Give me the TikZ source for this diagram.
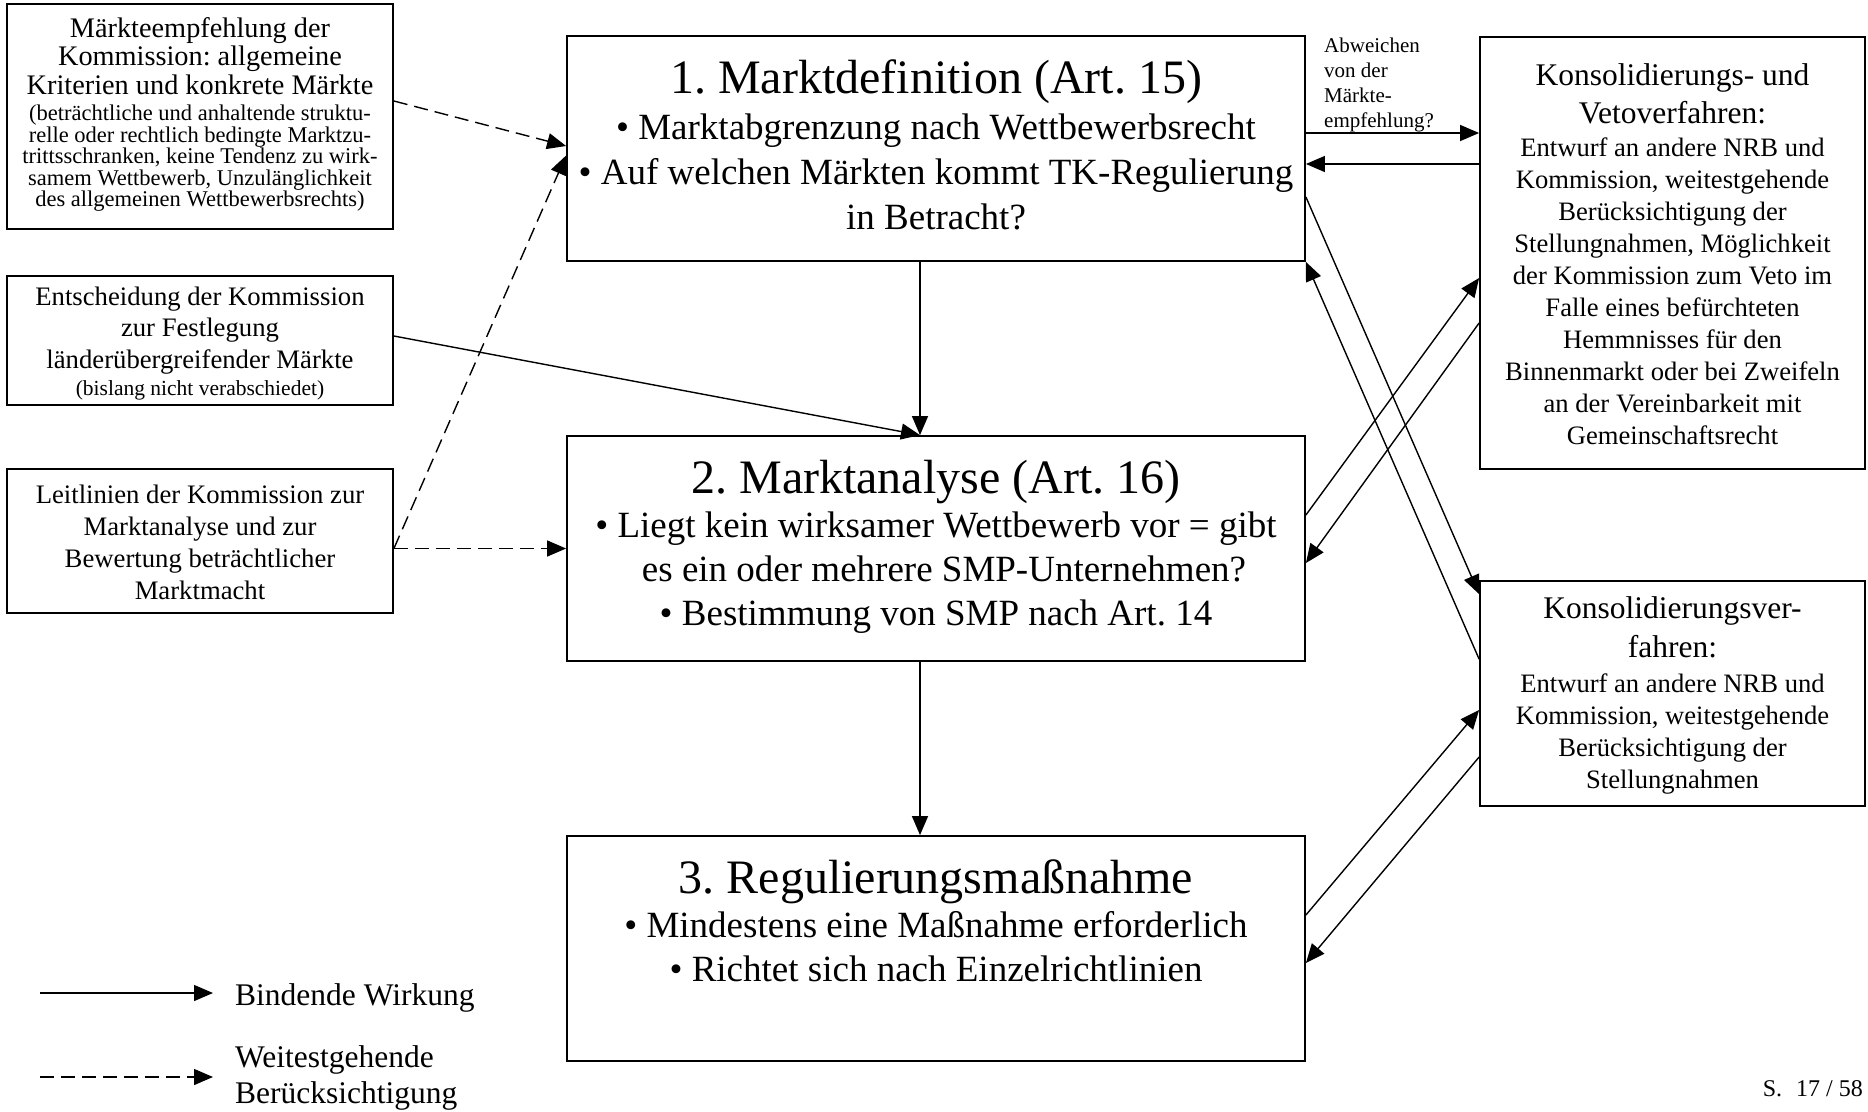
\documentclass[tikz,border=0pt]{standalone}
\usepackage{fontspec}
\setmainfont{Liberation Serif}
\usetikzlibrary{arrows.meta}
\newcommand{\fsz}[2]{\fontsize{#1pt}{#2pt}\selectfont}
% centred / left paragraphs with the font's own interword spaces
\newcommand{\ctr}{\centering\spaceskip=0pt\relax\xspaceskip=0pt\relax}
\newcommand{\lft}{\raggedright\spaceskip=0pt\relax\xspaceskip=0pt\relax}
\begin{document}
\frenchspacing
\lineskiplimit=-100pt
\begin{tikzpicture}[x=1pt, y=-1pt,
  box/.style={draw, line width=1.8pt, inner sep=0pt},
  txt/.style={anchor=base, inner sep=0pt},
  conn/.style={line width=1.4pt, -{Triangle[length=19pt,width=16pt]}},
  soft/.style={conn, dash pattern=on 14pt off 7pt},
]
\useasboundingbox[fill=white] (0,0) rectangle (1868,1111);

% ---------- frames ----------
\node[box, minimum width=386pt, minimum height=225pt] (rec)  at (200,116.5)  {};
\node[box, minimum width=386pt, minimum height=129pt] (dec)  at (200,340.5)  {};
\node[box, minimum width=386pt, minimum height=144pt] (gl)   at (200,541)    {};
\node[box, minimum width=738pt, minimum height=225pt] (def)  at (936,148.5)  {};
\node[box, minimum width=738pt, minimum height=225pt] (ana)  at (936,548.5)  {};
\node[box, minimum width=738pt, minimum height=225pt] (reg)  at (936,948.5)  {};
\node[box, minimum width=385pt, minimum height=432pt] (veto) at (1672.5,253) {};
\node[box, minimum width=385pt, minimum height=225pt] (cons) at (1672.5,693.5) {};

% ---------- texts ----------
\node[txt, text width=380pt] (recT) at (200,37) {\ctr
  {\fsz{28.3}{28.7}Märkteempfehlung der\\ Kommission: allgemeine\\ Kriterien und konkrete Märkte\par}
  \vspace{5pt}
  {\fsz{22.5}{21.5}(beträchtliche und anhaltende struktu-\\ relle oder rechtlich bedingte Marktzu-\\ trittsschranken, keine Tendenz zu wirk-\\ samem Wettbewerb, Unzulänglichkeit\\ des allgemeinen Wettbewerbsrechts)\par}};

\node[txt, text width=380pt] (decT) at (200,305) {\ctr
  {\fsz{26.7}{31.5}Entscheidung der Kommission\\ zur Festlegung\\ länderübergreifender Märkte\par}
  {\fsz{21.5}{27}(bislang nicht verabschiedet)\par}};

\node[txt, text width=380pt] (glT) at (200,503) {\ctr
  {\fsz{26.7}{32}Leitlinien der Kommission zur\\ Marktanalyse und zur\\ Bewertung beträchtlicher\\ Marktmacht\par}};

\node[txt, text width=734pt] (defT) at (936,93) {\ctr
  {\fsz{48}{48}1. Marktdefinition (Art.~15)\par}
  \vspace{1pt}
  {\fsz{37}{45}• Marktabgrenzung nach Wettbewerbsrecht\\ • Auf welchen Märkten kommt TK-Regulierung\\ in Betracht?\par}};

\node[txt, text width=734pt] (anaT) at (936,493) {\ctr
  {\fsz{48}{48}2. Marktanalyse (Art.~16)\par}
  {\fsz{37}{44}• Liegt kein wirksamer Wettbewerb vor = gibt\\ \hspace*{16pt}es ein oder mehrere SMP-Unternehmen?\\ • Bestimmung von SMP nach Art.~14\par}};

\node[txt, text width=734pt] (regT) at (936,893) {\ctr
  {\fsz{48}{48}3. Regulierungsmaßnahme\par}
  {\fsz{37}{44}• Mindestens eine Maßnahme erforderlich\\ • Richtet sich nach Einzelrichtlinien\par}};

\node[txt, text width=380pt] (vetoT) at (1672.5,85) {\ctr
  {\fsz{31.5}{38}Konsolidierungs- und\\ Vetoverfahren:\par}
  \vspace{1pt}
  {\fsz{26.6}{32}Entwurf an andere NRB und\\ Kommission, weitestgehende\\ Berücksichtigung der\\ Stellungnahmen, Möglichkeit\\ der Kommission zum Veto im\\ Falle eines befürchteten\\ Hemmnisses für den\\ Binnenmarkt oder bei Zweifeln\\ an der Vereinbarkeit mit\\ Gemeinschaftsrecht\par}};

\node[txt, text width=380pt] (consT) at (1672.5,618) {\ctr
  {\fsz{31.5}{39}Konsolidierungsver-\\ fahren:\par}
  \vspace{3pt}
  {\fsz{26.6}{32}Entwurf an andere NRB und\\ Kommission, weitestgehende\\ Berücksichtigung der\\ Stellungnahmen\par}};

% ---------- connectors on the left ----------
\draw[soft] ([yshift=15.5pt]rec.east) -- ([yshift=2.5pt]def.west);
\coordinate (glOut) at (gl.east |- ana.west);
\draw[soft] (glOut) -- ([yshift=-7pt]def.west);
\draw[soft] (glOut) -- (ana.west);
\draw[conn] ([yshift=4.5pt]dec.east) -- ([xshift=-16pt]ana.north);

% ---------- main sequence ----------
\draw[conn] ([xshift=-16pt]def.south) -- ([xshift=-16pt]ana.north);
\draw[conn] ([xshift=-16pt]ana.south) -- ([xshift=-16pt]reg.north);

% ---------- exchanges with the procedures on the right ----------
\coordinate (d1) at ([yshift=15.5pt]def.east);
\coordinate (d2) at ([yshift=-15.5pt]def.east);
\draw[conn] (d1) -- (d1 -| veto.west);
\draw[conn] (d2 -| veto.west) -- (d2);
\node[anchor=base west, text width=150pt, inner sep=0pt, font=\fsz{21}{25}] (devT) at (1324,52)
  {\lft Abweichen\\ von der\\ Märkte-\\ empfehlung?\par};

\draw[conn] ([yshift=-48.5pt]def.east) -- ([yshift=-14pt]cons.north west);
\draw[conn] ([yshift=-79pt]cons.north west) -- (def.south east);
\draw[conn] ([yshift=33.5pt]ana.east) -- ([yshift=-25pt]veto.west);
\draw[conn] ([yshift=-70pt]veto.west) -- ([yshift=-14.5pt]ana.east);
\draw[conn] ([yshift=33.5pt]reg.east) -- ([yshift=-16.5pt]cons.west);
\draw[conn] ([yshift=-63.5pt]cons.west) -- ([yshift=-14.5pt]reg.east);

% ---------- legend ----------
\coordinate (lgA1) at (40,993);
\coordinate (lgA2) at (213,993);
\coordinate (lgB1) at (40,1077);
\coordinate (lgB2) at (213,1077);
\draw[conn] (lgA1) -- (lgA2);
\draw[soft] (lgB1) -- (lgB2);
\node[anchor=base west, inner sep=0pt, font=\fsz{31.5}{36}] (lgAT) at (235,1005) {Bindende Wirkung};
\node[anchor=base west, text width=260pt, inner sep=0pt, font=\fsz{31.5}{36}] (lgBT) at (235,1067)
  {\lft Weitestgehende\\ Berücksichtigung\par};

% ---------- page number ----------
\node[anchor=base east, inner sep=0pt, font=\fsz{24}{28}] (page) at (1863,1096) {S.\hspace{14pt}17 / 58};
\end{tikzpicture}
\end{document}
